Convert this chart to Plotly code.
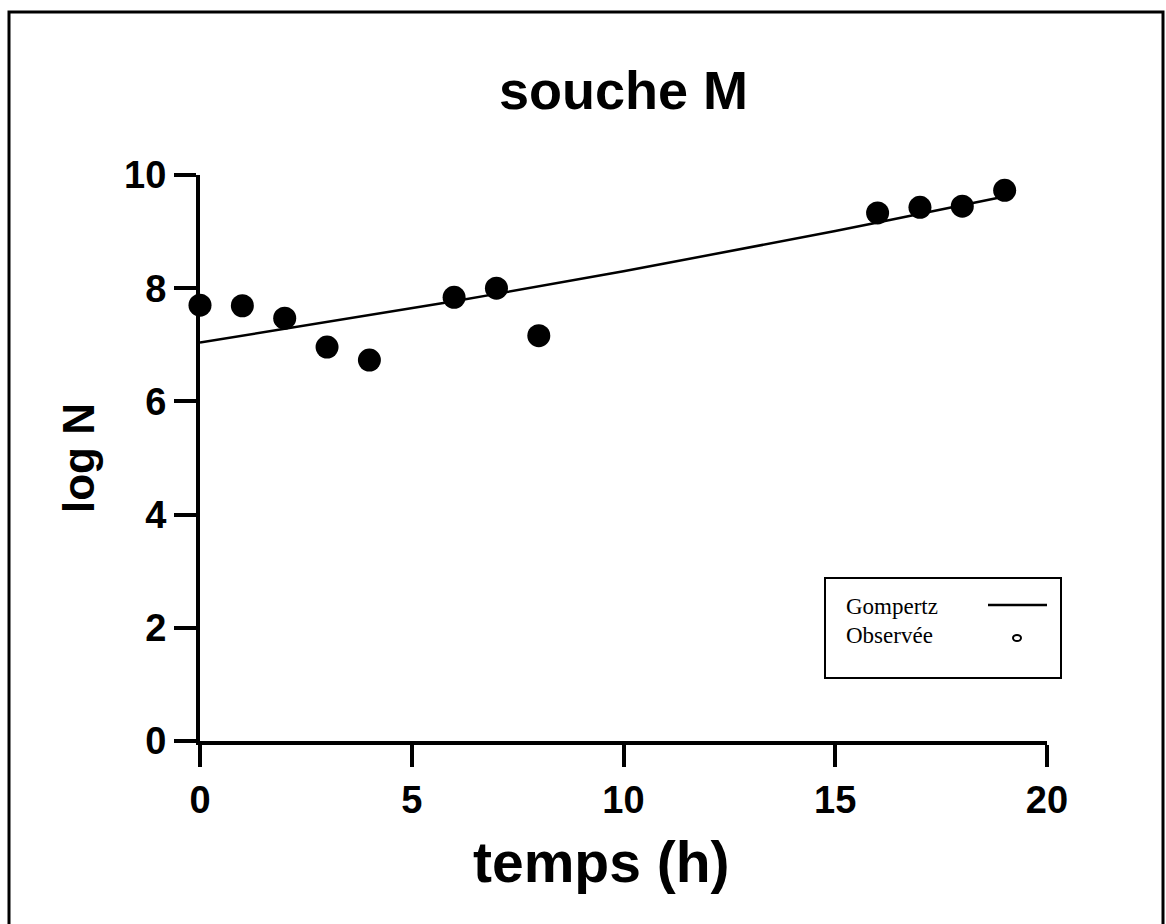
import plotly.graph_objects as go

# Observed data
t_obs = [0, 1, 2, 3, 4, 6, 7, 8, 16, 17, 18, 19]
logn_obs = [7.70, 7.69, 7.47, 6.96, 6.73, 7.84, 8.00, 7.16, 9.33, 9.43, 9.45, 9.73]

# Gompertz fitted curve
t_fit = list(range(0, 20))
logn_fit = [7.04, 7.16, 7.28, 7.40, 7.52, 7.645, 7.77, 7.90, 8.03, 8.16,
            8.30, 8.44, 8.58, 8.72, 8.86, 9.01, 9.16, 9.31, 9.46, 9.62]

x_ticks = [0, 5, 10, 15, 20]
y_ticks = [0, 2, 4, 6, 8, 10]

W, H = 1166, 924
L, R, T, B = 200, 1047, 175, 741

def px(x):
    return (x - L) / (R - L)

def py(y):
    return (B - y) / (B - T)

fig = go.Figure()
fig.add_trace(go.Scatter(x=t_fit, y=logn_fit, mode="lines",
                         line=dict(color="black", width=2.5),
                         name="Gompertz", showlegend=False))
fig.add_trace(go.Scatter(x=t_obs, y=logn_obs, mode="markers",
                         marker=dict(color="black", size=23),
                         name="Observée", showlegend=False, cliponaxis=False))

tickfont = dict(family="Liberation Sans, Arial", size=38, color="black", weight="bold")
axis_common = dict(showline=True, linecolor="black", linewidth=4, ticks="outside",
                   ticklen=22, tickwidth=4, tickcolor="black", showgrid=False,
                   zeroline=False, tickfont=tickfont)

fig.update_layout(
    width=W, height=H,
    margin=dict(l=L, r=W - R, t=T, b=H - B),
    plot_bgcolor="white", paper_bgcolor="white",
    showlegend=False,
    xaxis=dict(range=[0, 20], tickvals=x_ticks, **axis_common),
    yaxis=dict(range=[0, 10], tickvals=y_ticks, **axis_common),
)

# Outer frame
fig.add_shape(type="rect", xref="paper", yref="paper",
              x0=px(9), x1=px(1163), y0=py(935), y1=py(12),
              line=dict(color="black", width=3), layer="below")

# Title and axis titles
fig.add_annotation(text="souche M", xref="paper", yref="paper", x=px(623), y=py(90),
                   showarrow=False, xanchor="center", yanchor="middle",
                   font=dict(family="Liberation Sans, Arial", size=54, color="black", weight="bold"))
fig.add_annotation(text="temps (h)", xref="paper", yref="paper", x=px(601), y=py(862),
                   showarrow=False, xanchor="center", yanchor="middle",
                   font=dict(family="Liberation Sans, Arial", size=57, color="black", weight="bold"))
fig.add_annotation(text="log N", xref="paper", yref="paper", x=px(78), y=py(458),
                   showarrow=False, xanchor="center", yanchor="middle", textangle=-90,
                   font=dict(family="Liberation Sans, Arial", size=44, color="black", weight="bold"))

# Custom legend box
fig.add_shape(type="rect", xref="paper", yref="paper",
              x0=px(825), x1=px(1061), y0=py(678), y1=py(578),
              line=dict(color="black", width=2), fillcolor="white")
legfont = dict(family="Liberation Serif, Times New Roman", size=23, color="black")
fig.add_annotation(text="Gompertz", xref="paper", yref="paper", x=px(844), y=py(606),
                   showarrow=False, xanchor="left", yanchor="middle", font=legfont)
fig.add_annotation(text="Observée", xref="paper", yref="paper", x=px(844), y=py(635),
                   showarrow=False, xanchor="left", yanchor="middle", font=legfont)
fig.add_shape(type="line", xref="paper", yref="paper",
              x0=px(988), x1=px(1047), y0=py(605), y1=py(605),
              line=dict(color="black", width=2.5))
fig.add_shape(type="circle", xref="paper", yref="paper",
              x0=px(1013), x1=px(1021), y0=py(641), y1=py(635),
              line=dict(color="black", width=2))

fig.write_html("out.html")
